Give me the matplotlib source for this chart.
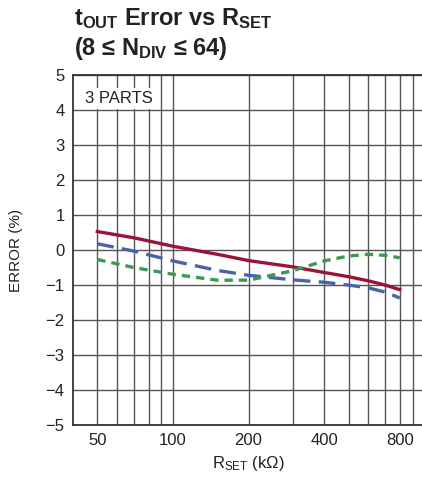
import numpy as np
import matplotlib
matplotlib.use('Agg')
from matplotlib import pyplot as plt

## R_SET in kOhm and error (%)
r_set = [50, 70, 100, 150, 200, 300, 400, 500, 600, 700, 800]
err_red = [0.53, 0.35, 0.11, -0.12, -0.30, -0.48, -0.64, -0.76, -0.88, -1.00, -1.13]
err_blue = [0.18, -0.03, -0.31, -0.58, -0.72, -0.85, -0.92, -1.00, -1.08, -1.20, -1.37]
err_green = [-0.27, -0.50, -0.69, -0.86, -0.86, -0.59, -0.31, -0.17, -0.12, -0.15, -0.22]

xticks = [50, 100, 200, 400, 800]
xgrid = [50, 60, 70, 80, 90, 100, 200, 300, 400, 500, 600, 700, 800, 900]
yticks = [-5, -4, -3, -2, -1, 0, 1, 2, 3, 4, 5]

plt.rcParams['font.family'] = ['Liberation Sans', 'DejaVu Sans']
plt.rcParams['mathtext.fontset'] = 'custom'
plt.rcParams['mathtext.rm'] = 'Liberation Sans'
plt.rcParams['mathtext.it'] = 'Liberation Sans'
plt.rcParams['mathtext.bf'] = 'Liberation Sans:bold'

fig = plt.figure(figsize=[4.22, 4.92], dpi=100)
ax = fig.add_axes([0.173, 0.136, 0.832, 0.7114])

ax.set_xscale('log')
ax.set_xlim(40, 1000)
ax.set_ylim(-5, 5)

for xv in xgrid:
    ax.axvline(xv, color='#555555', linewidth=1.0, zorder=1)
for yv in yticks:
    ax.axhline(yv, color='#555555', linewidth=1.0, zorder=1)

ax.plot(r_set, err_red, color='#9a1438', linewidth=2.4, zorder=3)
ax.plot(r_set, err_blue, color='#4a62a8', linewidth=2.4, dashes=(5, 2.5), zorder=3)
ax.plot(r_set, err_green, color='#3a9a50', linewidth=2.4, dashes=(2.5, 1.8), zorder=3)

ax.set_xticks(xticks)
ax.set_xticklabels([str(v) for v in xticks])
ax.xaxis.set_minor_locator(matplotlib.ticker.NullLocator())
ax.set_yticks(yticks)
ax.set_yticklabels([str(v).replace('-', '\u2212') for v in yticks])
ax.tick_params(length=0, labelsize=12, colors='#222222', pad=6)

for s in ax.spines.values():
    s.set_color('#333333')
    s.set_linewidth(1.3)

ax.text(0.035, 0.955, '3 PARTS', transform=ax.transAxes, fontsize=12, color='#222222',
        va='top', ha='left', zorder=4,
        bbox=dict(facecolor='white', edgecolor='none', pad=2))

ax.set_xlabel(r'R$_{\mathrm{SET}}$ (k$\Omega$)', fontsize=12, color='#222222', labelpad=4)
ax.set_ylabel('ERROR (%)', fontsize=11, color='#222222', labelpad=16)

fig.text(0.175, 0.988, r'$\mathbf{t_{OUT}}$ Error vs R$\mathbf{_{SET}}$', fontsize=17,
         fontweight='bold', va='top', ha='left', color='#222222')
fig.text(0.175, 0.928, '(8 \u2264 N' + r'$\mathbf{_{DIV}}$' + ' \u2264 64)', fontsize=17,
         fontweight='bold', va='top', ha='left', color='#222222')

fig.savefig('out.png', dpi=100)
